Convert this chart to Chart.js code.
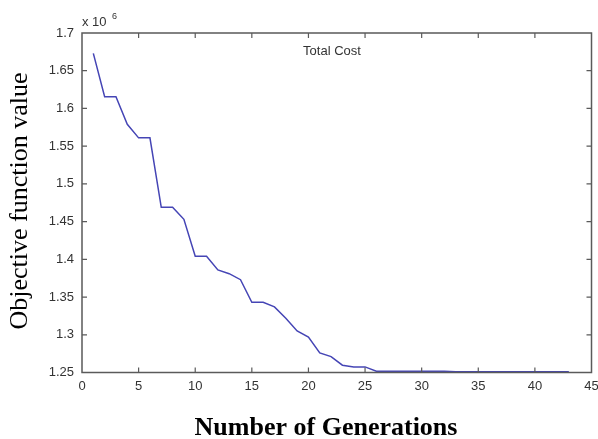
<!DOCTYPE html>
<html>
<head>
<meta charset="utf-8">
<script src="https://cdn.jsdelivr.net/npm/chart.js@4.4.1/dist/chart.umd.min.js"></script>
<style>
    html, body { margin: 0; padding: 0; background: #fff; }
    #wrap { width: 598px; height: 439px; }
</style>
</head>
<body>
<div id="wrap"><canvas id="costChart" width="598" height="439"></canvas></div>
<script>
// generation number and total cost (in units of 10^6)
const generations = [1, 2, 3, 4, 5, 6, 7, 8, 9, 10, 11, 12, 13, 14, 15, 16, 17, 18, 19, 20, 21, 22,
    23, 24, 25, 26, 27, 28, 29, 30, 31, 32, 33, 34, 35, 36, 37, 38, 39, 40, 41, 42, 43];
const totalCost = [1.673, 1.6155, 1.6155, 1.579, 1.561, 1.561, 1.469, 1.469, 1.453, 1.404, 1.404,
    1.386, 1.381, 1.373, 1.343, 1.343, 1.337, 1.322, 1.305, 1.297, 1.276, 1.271,
    1.2597, 1.2574, 1.2574, 1.2517, 1.2515, 1.2515, 1.2515, 1.2515, 1.2515, 1.2515,
    1.251, 1.251, 1.251, 1.251, 1.251, 1.251, 1.251, 1.251, 1.251, 1.251, 1.251];

const xTicks = [0, 5, 10, 15, 20, 25, 30, 35, 40, 45];
const yTicks = [1.25, 1.3, 1.35, 1.4, 1.45, 1.5, 1.55, 1.6, 1.65, 1.7];
const yTickLabels = ['1.25', '1.3', '1.35', '1.4', '1.45', '1.5', '1.55', '1.6', '1.65', '1.7'];

const tickFont = { family: 'Arial, "Liberation Sans", sans-serif', size: 13 };

// matlab style box, inward ticks and the free text around the axes
const matlabFrame = {
    id: 'matlabFrame',
    afterDraw(chart) {
        const { ctx, chartArea: a, scales } = chart;
        ctx.save();
        ctx.strokeStyle = '#5a5a5a';
        ctx.lineWidth = 1.5;
        ctx.strokeRect(a.left, a.top, a.right - a.left, a.bottom - a.top);

        ctx.lineWidth = 1.2;
        ctx.beginPath();
        xTicks.slice(1, -1).forEach(v => {
            const px = scales.x.getPixelForValue(v);
            ctx.moveTo(px, a.bottom); ctx.lineTo(px, a.bottom - 5);
            ctx.moveTo(px, a.top); ctx.lineTo(px, a.top + 5);
        });
        yTicks.slice(1, -1).forEach(v => {
            const py = scales.y.getPixelForValue(v);
            ctx.moveTo(a.left, py); ctx.lineTo(a.left + 5, py);
            ctx.moveTo(a.right, py); ctx.lineTo(a.right - 5, py);
        });
        ctx.stroke();

        // plot title inside the axes
        ctx.fillStyle = '#333';
        ctx.font = '13px Arial, "Liberation Sans", sans-serif';
        ctx.textAlign = 'center';
        ctx.textBaseline = 'alphabetic';
        ctx.fillText('Total Cost', 332, 55);

        // exponent above y axis
        ctx.textAlign = 'left';
        ctx.fillText('x 10', 82, 26);
        ctx.font = '9px Arial, "Liberation Sans", sans-serif';
        ctx.fillText('6', 112, 19);

        // axis titles
        ctx.fillStyle = '#000';
        ctx.font = 'bold 26px "Times New Roman", "Liberation Serif", serif';
        ctx.textAlign = 'center';
        ctx.fillText('Number of Generations', 326, 435);

        ctx.font = '26px "Times New Roman", "Liberation Serif", serif';
        ctx.translate(27, 201);
        ctx.rotate(-Math.PI / 2);
        ctx.fillText('Objective function value', 0, 0);
        ctx.restore();
    }
};

new Chart(document.getElementById('costChart'), {
    type: 'line',
    data: {
        datasets: [{
            label: 'Total Cost',
            data: generations.map((g, i) => ({ x: g, y: totalCost[i] })),
            borderColor: '#4545b5',
            borderWidth: 1.5,
            pointRadius: 0,
            tension: 0,
            fill: false
        }]
    },
    options: {
        responsive: false,
        animation: false,
        layout: { padding: { left: 0, top: 33, right: 6.5, bottom: 0 } },
        plugins: {
            legend: { display: false },
            tooltip: { enabled: false }
        },
        scales: {
            x: {
                type: 'linear',
                min: 0,
                max: 45,
                afterBuildTicks: s => { s.ticks = xTicks.map(v => ({ value: v })); },
                afterFit: s => { s.height = 66.5; s.paddingRight = 0; s.paddingLeft = 0; },
                grid: { display: false, drawTicks: false },
                border: { display: false },
                ticks: { font: tickFont, color: '#333', padding: 6, maxRotation: 0 }
            },
            y: {
                min: 1.25,
                max: 1.7,
                afterBuildTicks: s => { s.ticks = yTicks.map(v => ({ value: v })); },
                afterFit: s => { s.width = 82; s.paddingTop = 0; s.paddingBottom = 0; },
                grid: { display: false, drawTicks: false },
                border: { display: false },
                ticks: {
                    font: tickFont,
                    color: '#333',
                    padding: 8,
                    callback: (v, i) => yTickLabels[i]
                }
            }
        }
    },
    plugins: [matlabFrame]
});
</script>
</body>
</html>
